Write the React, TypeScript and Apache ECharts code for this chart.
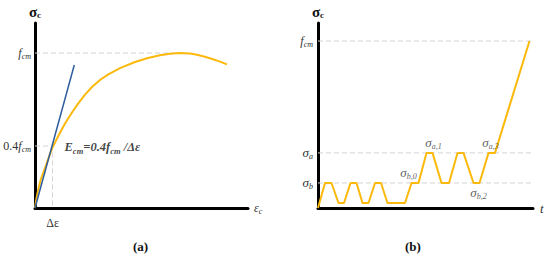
import React, { useEffect, useRef } from "react";
import * as echarts from "echarts";

// ---------- Panel (a): stress-strain (strain / peak strain, stress / fcm) ----------
const strainA = [0, 0.007, 0.023, 0.041, 0.069, 0.097, 0.122, 0.166, 0.207, 0.255, 0.297, 0.345, 0.393, 0.448, 0.503, 0.586, 0.69, 0.772, 0.862, 0.931, 1.0, 1.069, 1.117, 1.172, 1.228, 1.276, 1.324];
const stressA = [0, 0.045, 0.123, 0.187, 0.258, 0.332, 0.394, 0.474, 0.545, 0.616, 0.674, 0.732, 0.781, 0.826, 0.861, 0.903, 0.942, 0.966, 0.986, 0.995, 1.0, 0.997, 0.989, 0.976, 0.96, 0.945, 0.927];
const tangentStrain = [0, 0.271];
const tangentStress = [0, 0.923];
const deltaEps = 0.121;
const fcmA = 1.0;
const peakStrain = 1.0;
const secantLevel = 0.4;

// ---------- Panel (b): loading history ----------
const timeB = [0, 1.4, 2.7, 4.1, 5.2, 6.5, 7.7, 8.9, 10.1, 11.4, 12.6, 13.9, 17.4, 18.7, 20.1, 21.7, 22.9, 24.7, 26.2, 27.9, 29.1, 31.1, 32.3, 34.1, 35.4, 42.3];
const stressB = [0, 15, 15, 3, 3, 15, 15, 3, 3, 15, 15, 3, 3, 15, 15, 33, 33, 15, 15, 33, 33, 15, 15, 33, 33, 100];
const fcmB = 100;
const sigmaA = 33;
const sigmaB = 15;
const tMax = 43;

const SERIF = "'Liberation Serif', 'DejaVu Serif', serif";
const ORANGE = "#FBB90C";
const BLUE = "#2F5E9E";
const DASH = "#d4d4d4";
const TXT = "#333";

const richBase: any = {
  i: { fontFamily: SERIF, fontStyle: "italic", fontSize: 12, color: TXT },
  n: { fontFamily: SERIF, fontSize: 12, color: TXT },
  s: { fontFamily: SERIF, fontStyle: "italic", fontSize: 8, color: TXT, padding: [7, 0, 0, 0] },
  g: { fontFamily: SERIF, fontStyle: "italic", fontSize: 13, color: TXT },
  bi: { fontFamily: SERIF, fontStyle: "italic", fontWeight: "bold", fontSize: 12.5, color: "#111" },
  bs: { fontFamily: SERIF, fontStyle: "italic", fontWeight: "bold", fontSize: 8.5, color: "#111", padding: [7, 0, 0, 0] },
  sc: { fontFamily: SERIF, fontWeight: "bold", fontSize: 15, color: "#111" },
  scs: { fontFamily: SERIF, fontWeight: "bold", fontSize: 9, color: "#111", padding: [6, 0, 0, 0] },
};

const annotations = [
  { text: "{g|σ}{s|b,0}", t: 18.7, s: sigmaB, offset: [-3, -10] },
  { text: "{g|σ}{s|a,1}", t: 21.7, s: sigmaA, offset: [7, -10] },
  { text: "{g|σ}{s|a,3}", t: 34.1, s: sigmaA, offset: [2, -10] },
  { text: "{g|σ}{s|b,2}", t: 31.1, s: sigmaB, offset: [5, 10] },
];

function zip(a: number[], b: number[]) {
  return a.map((v, i) => [v, b[i]]);
}

export default function App() {
  const ref = useRef<HTMLDivElement>(null);
  useEffect(() => {
    if (!ref.current) return;
    const chart = echarts.init(ref.current, undefined, { renderer: "svg" });
    const axisLine = { show: true, onZero: false, lineStyle: { color: "#000", width: 3 } };
    const dashStyle = { color: DASH, width: 1, type: [5, 3] as any };
    const option: any = {
      animation: false,
      backgroundColor: "#fff",
      textStyle: { fontFamily: SERIF },
      grid: [
        { left: 35, top: 23, width: 213, height: 185 },
        { left: 318, top: 23, width: 215, height: 185 },
      ],
      xAxis: [
        {
          gridIndex: 0, type: "value", min: 0, max: 1.469,
          axisLine, axisTick: { show: false }, splitLine: { show: false },
          axisLabel: {
            customValues: [deltaEps], margin: 9, fontFamily: SERIF,
            formatter: () => "{n|Δε}", rich: richBase,
          },
          name: "{i|ε}{s|c}", nameLocation: "end", nameGap: 6,
          nameTextStyle: { rich: richBase, fontFamily: SERIF, verticalAlign: "middle" },
        },
        {
          gridIndex: 1, type: "value", min: 0, max: tMax,
          axisLine, axisTick: { show: false }, splitLine: { show: false },
          axisLabel: { show: false },
          name: "{i|t}", nameLocation: "end", nameGap: 7,
          nameTextStyle: { fontFamily: SERIF, rich: { i: { ...richBase.i, fontSize: 13 } } },
        },
      ],
      yAxis: [
        {
          gridIndex: 0, type: "value", min: 0, max: 1.194,
          axisLine, axisTick: { show: false }, splitLine: { show: false },
          axisLabel: {
            customValues: [secantLevel, fcmA], margin: 4, fontFamily: SERIF,
            formatter: (v: number) => (v === fcmA ? "{i|f}{s|cm}" : "{n|0.4}{i|f}{s|cm}"),
            rich: richBase,
          },
          name: "{sc|σ}{scs|c}", nameLocation: "end", nameGap: 4,
          nameTextStyle: { rich: richBase, fontFamily: SERIF, align: "center" },
        },
        {
          gridIndex: 1, type: "value", min: 0, max: 110.8,
          axisLine, axisTick: { show: false }, splitLine: { show: false },
          axisLabel: {
            customValues: [sigmaB, sigmaA, fcmB], margin: 5, fontFamily: SERIF,
            formatter: (v: number) =>
              v === fcmB ? "{i|f}{s|cm}" : v === sigmaA ? "{g|σ}{s|a}" : "{g|σ}{s|b}",
            rich: richBase,
          },
          name: "{sc|σ}{scs|c}", nameLocation: "end", nameGap: 4,
          nameTextStyle: { rich: richBase, fontFamily: SERIF, align: "center" },
        },
      ],
      series: [
        { type: "line", xAxisIndex: 0, yAxisIndex: 0, symbol: "none", lineStyle: dashStyle, data: [[0, fcmA], [peakStrain, fcmA]], z: 1 },
        { type: "line", xAxisIndex: 0, yAxisIndex: 0, symbol: "none", lineStyle: dashStyle, data: [[0, secantLevel], [deltaEps, secantLevel], [deltaEps, 0]], z: 1 },
        {
          type: "line", xAxisIndex: 0, yAxisIndex: 0, symbol: "none", smooth: false,
          lineStyle: { color: ORANGE, width: 2, join: "round" }, data: zip(strainA, stressA), z: 3,
        },
        {
          type: "line", xAxisIndex: 0, yAxisIndex: 0, symbol: "none",
          lineStyle: { color: BLUE, width: 1.5 }, data: zip(tangentStrain, tangentStress), z: 4,
        },
        ...[fcmB, sigmaA, sigmaB].map((lv) => ({
          type: "line", xAxisIndex: 1, yAxisIndex: 1, symbol: "none", lineStyle: dashStyle,
          data: [[0, lv], [tMax, lv]], z: 1,
        })),
        {
          type: "line", xAxisIndex: 1, yAxisIndex: 1, symbol: "none",
          lineStyle: { color: ORANGE, width: 2 }, data: zip(timeB, stressB), z: 3,
        },
        {
          type: "scatter", xAxisIndex: 1, yAxisIndex: 1, symbolSize: 0, z: 5,
          data: annotations.map((a) => ({
            value: [a.t, a.s],
            label: {
              show: true, position: "inside", offset: a.offset, formatter: a.text,
              rich: richBase, color: TXT, fontFamily: SERIF,
            },
          })),
        },
        {
          type: "scatter", xAxisIndex: 0, yAxisIndex: 0, symbolSize: 0, z: 5,
          data: [{
            value: [deltaEps, secantLevel],
            label: {
              show: true, position: "right", distance: 12, offset: [0, 1], color: "#111", fontFamily: SERIF,
              formatter: "{bi|E}{bs|cm}{bi|=0.4}{bi|f}{bs|cm}{bi| /Δε}", rich: richBase,
            },
          }],
        },
      ],
      graphic: [
        { type: "text", left: 133, top: 240, style: { text: "(a)", fontFamily: SERIF, fontWeight: "bold", fontSize: 13, fill: "#111" } },
        { type: "text", left: 405, top: 240, style: { text: "(b)", fontFamily: SERIF, fontWeight: "bold", fontSize: 13, fill: "#111" } },
      ],
    };
    chart.setOption(option);
    return () => chart.dispose();
  }, []);
  return (
    <div
      ref={ref}
      style={{ position: "absolute", left: 0, top: 0, width: 550, height: 263, background: "#fff" }}
    />
  );
}
